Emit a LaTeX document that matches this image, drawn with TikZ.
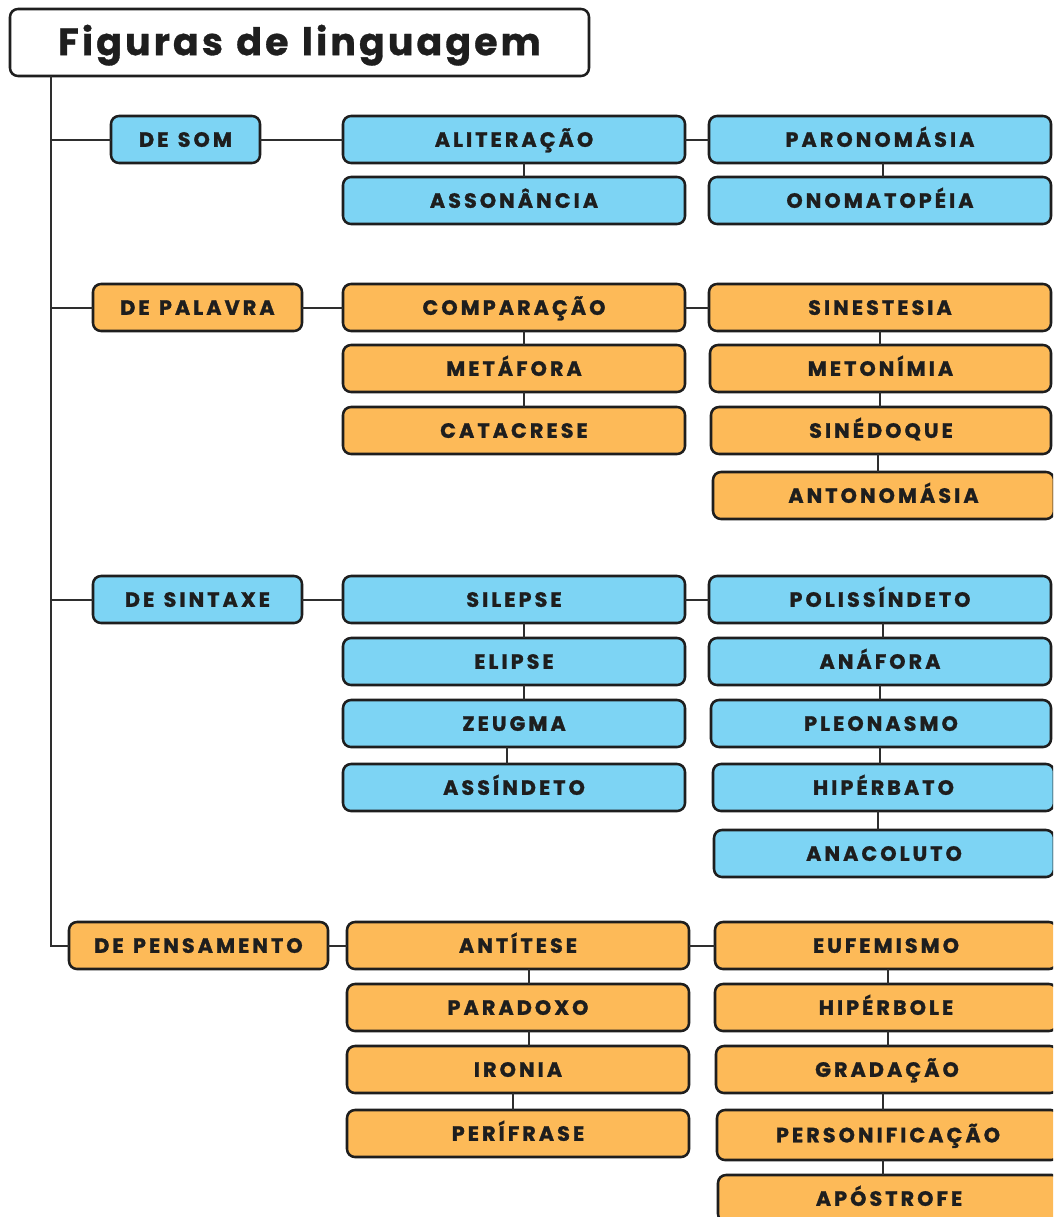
\documentclass[tikz,border=0pt]{standalone}
\usepackage{fontspec}
\setmainfont{Poppins}
\newfontfamily\labfont{Poppins}[LetterSpace=15, WordSpace=1.25, BoldFeatures={FakeBold=1.4}]
\newfontfamily\titfont{Poppins}[LetterSpace=8, WordSpace=1.2, BoldFeatures={FakeBold=0.8}]
\definecolor{blu}{HTML}{7DD4F4}
\definecolor{ora}{HTML}{FDBA58}
\definecolor{ink}{HTML}{1E1E1E}
\definecolor{wire}{HTML}{2E2E2E}
\newcommand\bx[7]{\node[#2, minimum width={(#5-#3)*0.75pt}, minimum height={(#6-#4)*0.75pt}] (#1) at ({(#3+#5)/2},{(#4+#6)/2}) {#7};}
\newcommand\vc[3]{\coordinate (vtmp) at (#3,0); \draw[conn] (#1.south -| vtmp) -- (#2.north -| vtmp);}
\begin{document}
\begin{tikzpicture}[x=0.75pt,y=-0.75pt,
  box/.style={draw=ink, line width=1.9pt, rounded corners=6pt, inner sep=0pt, outer sep=0pt, text=ink, text height=11pt, text depth=0pt, font=\labfont\bfseries\fontsize{15.5}{18}\selectfont},
  bluebox/.style={box, fill=blu},
  orabox/.style={box, fill=ora},
  titlebox/.style={box, fill=white, text height=20pt, text depth=1pt, font=\titfont\bfseries\fontsize{28.5}{32}\selectfont},
  conn/.style={draw=wire, line width=1.5pt}]
\useasboundingbox (0,0) rectangle (1053,1217);
\clip (0,0) rectangle (1053,1217);
\fill[white] (0,0) rectangle (1053,1217);
% title
\bx{title}{titlebox}{10}{9}{589}{76}{Figuras de linguagem}
% de som
\bx{som}{bluebox}{111}{116}{260}{163}{DE SOM}
\bx{alit}{bluebox}{343}{116}{685}{163}{ALITERAÇÃO}
\bx{paro}{bluebox}{709}{116}{1051}{163}{PARONOMÁSIA}
\bx{asso}{bluebox}{343}{177}{685}{224}{ASSONÂNCIA}
\bx{onom}{bluebox}{709}{177}{1051}{224}{ONOMATOPÉIA}
% de palavra
\bx{pal}{orabox}{93}{284}{302}{331}{DE PALAVRA}
\bx{comp}{orabox}{343}{284}{685}{331}{COMPARAÇÃO}
\bx{sine}{orabox}{709}{284}{1051}{331}{SINESTESIA}
\bx{meta}{orabox}{343}{345}{685}{392}{METÁFORA}
\bx{meto}{orabox}{710}{345}{1051}{392}{METONÍMIA}
\bx{cata}{orabox}{343}{407}{685}{454}{CATACRESE}
\bx{sined}{orabox}{711}{407}{1051}{454}{SINÉDOQUE}
\bx{anto}{orabox}{713}{472}{1054}{519}{ANTONOMÁSIA}
% de sintaxe
\bx{sin}{bluebox}{93}{576}{302}{623}{DE SINTAXE}
\bx{sil}{bluebox}{343}{576}{685}{623}{SILEPSE}
\bx{poli}{bluebox}{709}{576}{1051}{623}{POLISSÍNDETO}
\bx{eli}{bluebox}{343}{638}{685}{685}{ELIPSE}
\bx{ana}{bluebox}{709}{638}{1051}{685}{ANÁFORA}
\bx{zeu}{bluebox}{343}{700}{685}{747}{ZEUGMA}
\bx{pleo}{bluebox}{711}{700}{1051}{747}{PLEONASMO}
\bx{ass}{bluebox}{343}{764}{685}{811}{ASSÍNDETO}
\bx{hipb}{bluebox}{713}{764}{1054}{811}{HIPÉRBATO}
\bx{anac}{bluebox}{714}{830}{1054}{877}{ANACOLUTO}
% de pensamento
\bx{pens}{orabox}{69}{922}{328}{969}{DE PENSAMENTO}
\bx{anti}{orabox}{347}{922}{689}{969}{ANTÍTESE}
\bx{eufe}{orabox}{715}{922}{1057}{969}{EUFEMISMO}
\bx{para}{orabox}{347}{984}{689}{1031}{PARADOXO}
\bx{hipbo}{orabox}{715}{984}{1057}{1031}{HIPÉRBOLE}
\bx{iron}{orabox}{347}{1046}{689}{1093}{IRONIA}
\bx{grad}{orabox}{716}{1046}{1058}{1093}{GRADAÇÃO}
\bx{peri}{orabox}{347}{1110}{689}{1157}{PERÍFRASE}
\bx{pers}{orabox}{717}{1110}{1059}{1160}{PERSONIFICAÇÃO}
\bx{apos}{orabox}{718}{1175}{1060}{1222}{APÓSTROFE}
% trunk
\coordinate (tk) at (51,0);
\draw[conn] (title.south -| tk) |- (pens.west);
\draw[conn] (som.west -| tk) -- (som.west);
\draw[conn] (pal.west -| tk) -- (pal.west);
\draw[conn] (sin.west -| tk) -- (sin.west);
% horizontal links
\draw[conn] (som.east) -- (alit.west);
\draw[conn] (alit.east) -- (paro.west);
\draw[conn] (pal.east) -- (comp.west);
\draw[conn] (comp.east) -- (sine.west);
\draw[conn] (sin.east) -- (sil.west);
\draw[conn] (sil.east) -- (poli.west);
\draw[conn] (pens.east) -- (anti.west);
\draw[conn] (anti.east) -- (eufe.west);
% vertical links
\vc{alit}{asso}{524}
\vc{paro}{onom}{883}
\vc{comp}{meta}{524}
\vc{meta}{cata}{524}
\vc{sine}{meto}{880}
\vc{meto}{sined}{880}
\vc{sined}{anto}{878}
\vc{sil}{eli}{524}
\vc{eli}{zeu}{524}
\vc{zeu}{ass}{507}
\vc{poli}{ana}{883}
\vc{ana}{pleo}{880}
\vc{pleo}{hipb}{880}
\vc{hipb}{anac}{878}
\vc{anti}{para}{529}
\vc{para}{iron}{529}
\vc{iron}{peri}{513}
\vc{eufe}{hipbo}{888}
\vc{hipbo}{grad}{888}
\vc{grad}{pers}{883}
\vc{pers}{apos}{883}
\end{tikzpicture}
\end{document}
